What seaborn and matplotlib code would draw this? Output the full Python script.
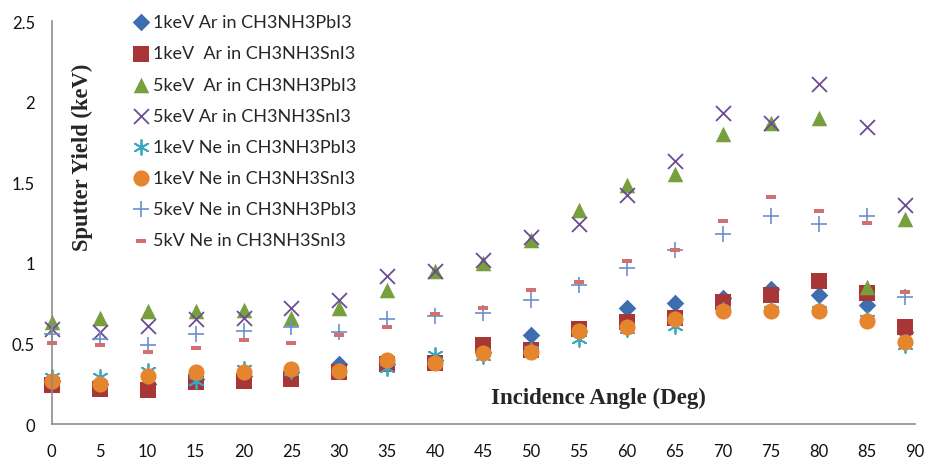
import seaborn as sns
import matplotlib.pyplot as plt
import pandas as pd

# Incidence angles (deg)
angles = [0, 5, 10, 15, 20, 25, 30, 35, 40, 45, 50, 55, 60, 65, 70, 75, 80, 85, 89]

# Sputter yield values
ar1_pbi3 = [0.27, 0.25, 0.25, 0.28, 0.30, 0.32, 0.37, 0.37, 0.40, 0.45, 0.55, 0.58, 0.72, 0.75, 0.78, 0.84, 0.80, 0.74, 0.57]
ar1_sni3 = [0.24, 0.22, 0.21, 0.26, 0.27, 0.28, 0.32, 0.37, 0.38, 0.49, 0.46, 0.59, 0.63, 0.66, 0.76, 0.80, 0.89, 0.81, 0.60]
ar5_pbi3 = [0.63, 0.66, 0.70, 0.70, 0.71, 0.66, 0.72, 0.83, 0.95, 1.00, 1.14, 1.33, 1.48, 1.55, 1.80, 1.87, 1.90, 0.85, 1.27]
ar5_sni3 = [0.59, 0.57, 0.61, 0.65, 0.66, 0.72, 0.77, 0.92, 0.95, 1.02, 1.16, 1.24, 1.42, 1.63, 1.93, 1.87, 2.11, 1.84, 1.36]
ne1_pbi3 = [0.29, 0.29, 0.33, 0.27, 0.34, 0.33, 0.33, 0.35, 0.43, 0.42, 0.46, 0.53, 0.59, 0.61, 0.71, 0.71, 0.71, 0.65, 0.49]
ne1_sni3 = [0.27, 0.25, 0.30, 0.32, 0.32, 0.34, 0.33, 0.40, 0.38, 0.44, 0.45, 0.58, 0.60, 0.65, 0.70, 0.70, 0.70, 0.64, 0.51]
ne5_pbi3 = [0.56, 0.53, 0.49, 0.56, 0.58, 0.60, 0.57, 0.65, 0.67, 0.69, 0.77, 0.86, 0.97, 1.08, 1.18, 1.29, 1.24, 1.29, 0.79]
ne5_sni3 = [0.50, 0.49, 0.45, 0.47, 0.52, 0.50, 0.55, 0.60, 0.68, 0.72, 0.83, 0.88, 1.01, 1.08, 1.26, 1.41, 1.32, 1.25, 0.82]

labels = [
    '1keV Ar in CH3NH3PbI3',
    '1keV  Ar in CH3NH3SnI3',
    '5keV  Ar in CH3NH3PbI3',
    '5keV Ar in CH3NH3SnI3',
    '1keV Ne in CH3NH3PbI3',
    '1keV Ne in CH3NH3SnI3',
    '5keV Ne in CH3NH3PbI3',
    '5kV Ne in CH3NH3SnI3',
]
series = [ar1_pbi3, ar1_sni3, ar5_pbi3, ar5_sni3, ne1_pbi3, ne1_sni3, ne5_pbi3, ne5_sni3]

dash = [(-1, -0.45), (1, -0.45), (1, 0.45), (-1, 0.45), (-1, -0.45)]
styles = [
    dict(marker='D', color='#3e6eb0', s=80, linewidth=0),
    dict(marker='s', color='#a93636', s=125, linewidth=0),
    dict(marker='^', color='#77a03c', s=125, linewidth=0),
    dict(marker='x', color='#6a4c96', s=115, linewidth=1.3),
    dict(marker=(6, 2, 0), color='#3aa7c2', s=115, linewidth=1.3),
    dict(marker='o', color='#e5852e', s=135, linewidth=0),
    dict(marker='+', color='#6a8fd0', s=125, linewidth=1.2),
    dict(marker=dash, color='#d46f6f', s=42, linewidth=0),
]

sns.set_style('white')
plt.rcParams['font.family'] = ['Lato', 'DejaVu Sans']

fig = plt.figure(figsize=(9.27, 4.6), dpi=100)
ax = fig.add_axes([0.0558, 0.076, 0.931, 0.876])

for lab, vals, st in zip(labels, series, styles):
    df = pd.DataFrame({'angle': angles, 'yield': vals})
    sns.scatterplot(data=df, x='angle', y='yield', ax=ax, label=lab,
                    clip_on=False, **st)

ax.set_xlim(0, 90)
ax.set_ylim(0, 2.5)
ax.set_xticks(range(0, 91, 5))
ax.set_yticks([0, 0.5, 1, 1.5, 2, 2.5])
ax.set_yticklabels(['0', '0.5', '1', '1.5', '2', '2.5'])
ax.set_xlabel('')
ax.set_ylabel('')
for side in ['top', 'right']:
    ax.spines[side].set_visible(False)
for side in ['left', 'bottom']:
    ax.spines[side].set_color('#8c8c8c')
    ax.spines[side].set_linewidth(1.2)
ax.tick_params(axis='both', direction='out', length=6, width=1.2, color='#8c8c8c',
               labelsize=12, labelcolor='#111111', pad=6)
ax.tick_params(axis='x', pad=8)

serif = ['Liberation Serif', 'DejaVu Serif']
ax.text(0.036, 0.665, 'Sputter Yield (keV)', transform=ax.transAxes, rotation=90,
        ha='center', va='center', fontsize=16.3, fontweight='bold', family=serif)
ax.text(0.634, 0.067, 'Incidence Angle (Deg)', transform=ax.transAxes,
        ha='center', va='center', fontsize=16.5, fontweight='bold', family=serif)

ax.legend(loc='upper left', bbox_to_anchor=(0.082, 1.035), frameon=False,
          fontsize=13, labelspacing=0.84, handletextpad=0.1, handlelength=1.2,
          borderaxespad=0)

plt.savefig('out.png', dpi=100)
